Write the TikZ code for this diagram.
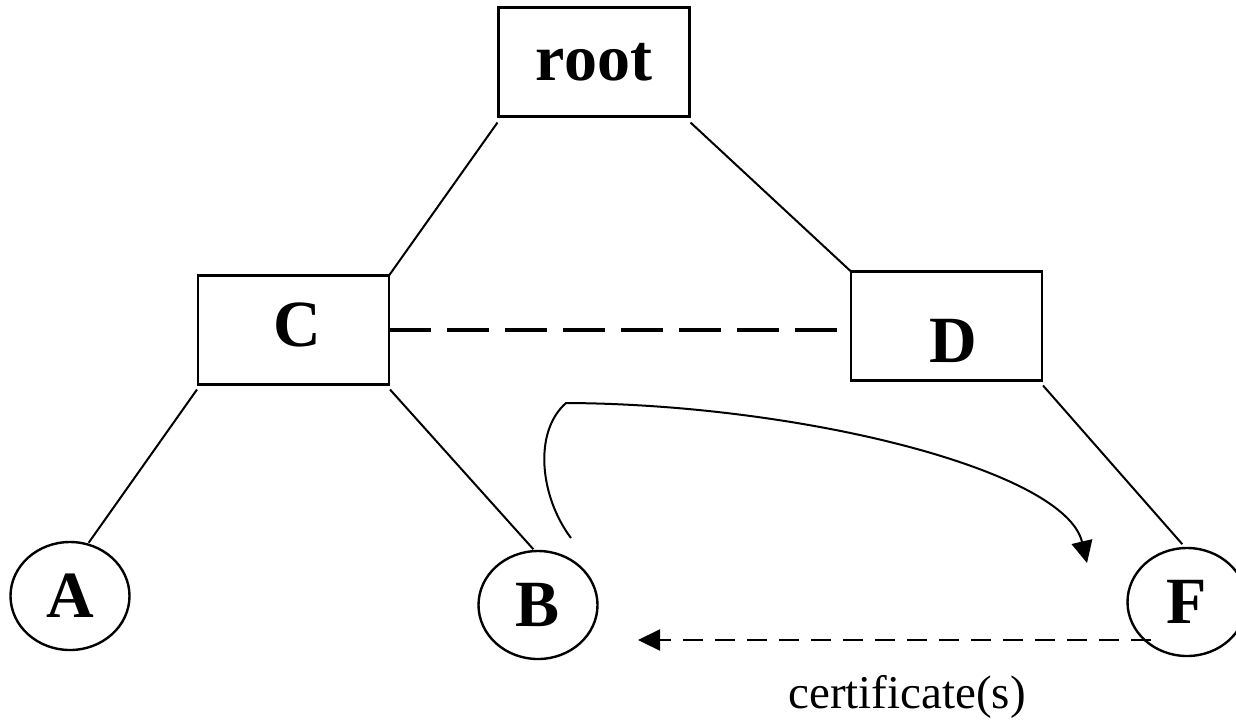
\documentclass[tikz,border=0pt]{standalone}
\usepackage{fontspec}
\setmainfont{Liberation Serif}
\usetikzlibrary{arrows.meta,calc,shapes.geometric}
\begin{document}
\begin{tikzpicture}[x=1pt,y=-1pt,
  boxst/.style={draw, line width=2.4pt, inner sep=0pt, outer sep=0pt,
    minimum width=191pt, minimum height=109pt},
  leaf/.style={draw, ellipse, line width=2.4pt, inner sep=0pt, outer sep=0pt,
    minimum width=119pt, minimum height=108pt, font=\fontsize{66}{66}\selectfont\bfseries},
  lab/.style={inner sep=0pt, font=\fontsize{66}{66}\selectfont\bfseries},
  edge/.style={line width=2pt},
  thickdash/.style={line width=4.5pt, dash pattern=on 42pt off 16pt},
  thindash/.style={line width=2.2pt, dash pattern=on 20pt off 12pt},
  tip/.style={-{Triangle[length=22pt,width=21pt]}}
]
\useasboundingbox (0,0) rectangle (1236,721);

% boxes
\node[boxst, lab] (root) at (594,62) {root};
\node[boxst] (C) at (293.5,330) {};
\node[lab] (Clab) at (297,325) {C};
\node[boxst] (D) at (946.5,326) {};
\node[lab] (Dlab) at (953,341) {D};

% leaves
\node[leaf] (A) at (70,596) {A};
\node[leaf] (B) at (538,605) {B};
\node[leaf] (F) at (1187,602) {F};

% tree edges
\draw[edge] ($(root.south west)+(-1,6)$) -- (C.north east);
\draw[edge] ($(root.south east)+(1,6)$) -- (D.north west);
\draw[edge] ($(C.south west)+(-1,5)$) -- ($(A.70)+(0,-2)$);
\draw[edge] ($(C.south east)+(1,5)$) -- ($(B.95)+(0,-2)$);
\draw[edge] ($(D.south east)+(1,5)$) -- ($(F.95)+(0,-4)$);

% thick dashed link C -- D
\draw[thickdash] (C.east) -- (C.east -| D.west);

% curved arrow B -> F
\coordinate (cs) at (571,538);
\coordinate (ce) at (1087,563);
\draw[edge, tip] (cs) .. controls (540,497) and (533,432) .. (566,403)
  .. controls (800,404) and (1065,470) .. (ce);

% dashed arrow F -> B
\coordinate (fs) at (1151,640);
\coordinate (ft) at (638,640);
\draw[thindash, tip] (fs) -- (ft);

\node[inner sep=0pt, font=\fontsize{47}{50}\selectfont] (cert) at (907,697) {certificate(s)};
\end{tikzpicture}
\end{document}
